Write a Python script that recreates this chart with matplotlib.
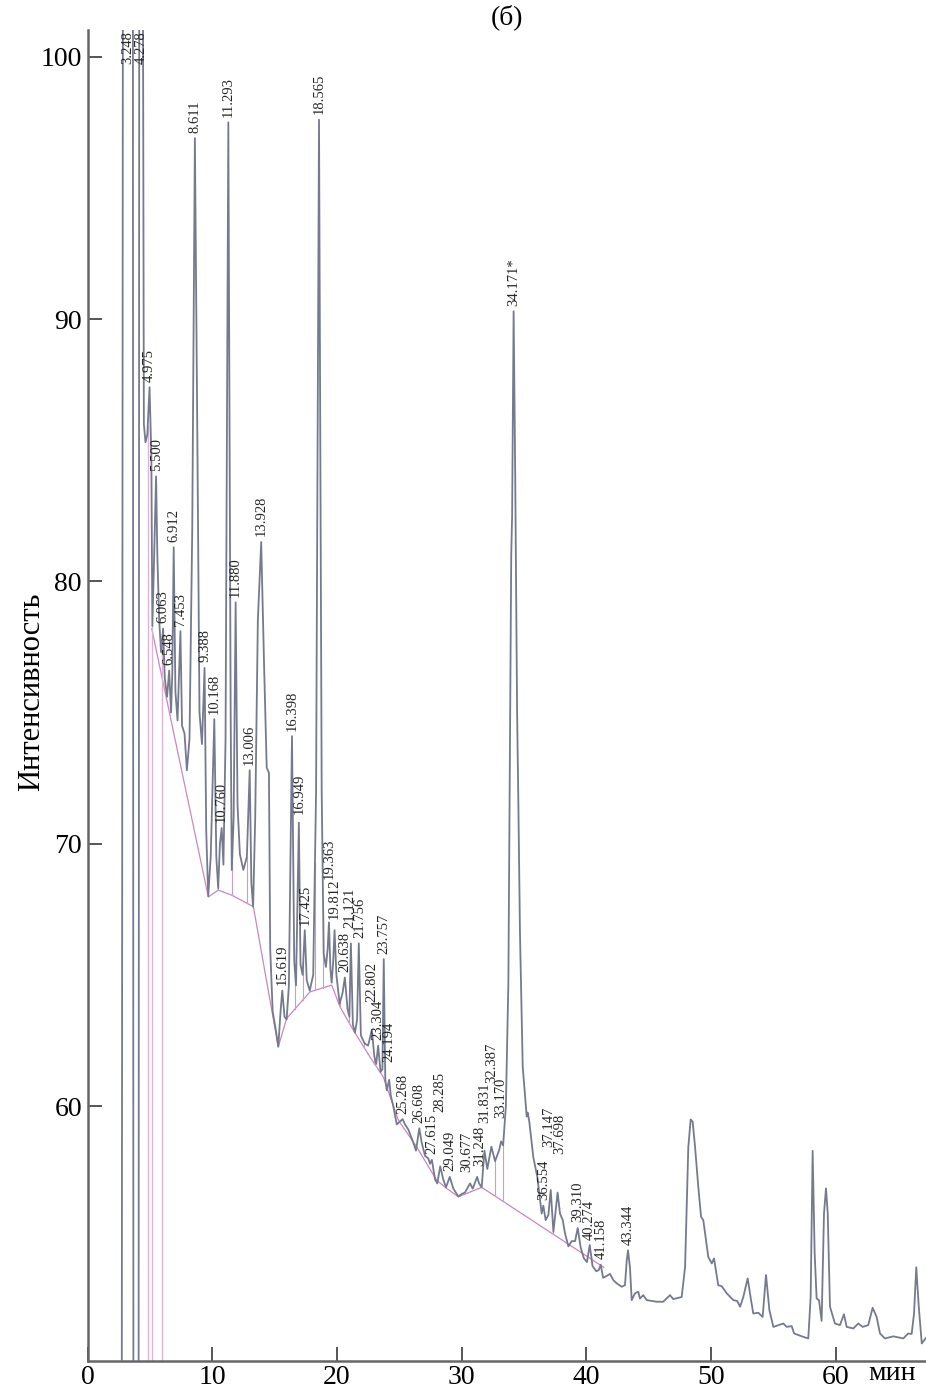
import numpy as np
import matplotlib.pyplot as plt

plt.rcParams['font.family'] = ['Liberation Serif', 'DejaVu Serif']

# chromatogram trace: retention time (min) / intensity
t = [2.75, 2.84, 3.248, 3.64, 3.68, 4.10, 4.15, 4.278, 4.44, 4.52,
     4.65, 4.80, 4.975, 5.05, 5.12, 5.20, 5.32, 5.500, 5.60, 5.75,
     5.90, 6.063, 6.20, 6.38, 6.548, 6.70, 6.80, 6.912, 7.05, 7.22,
     7.453, 7.58, 7.78, 7.97, 8.18, 8.40, 8.611, 8.80, 8.98, 9.18,
     9.388, 9.52, 9.68, 9.88, 10.168, 10.33, 10.48, 10.62, 10.760, 10.90,
     11.07, 11.293, 11.48, 11.57, 11.72, 11.880, 12.03, 12.22, 12.50, 12.78,
     13.006, 13.14, 13.28, 13.45, 13.66, 13.928, 14.15, 14.37, 14.55, 14.65,
     14.85, 15.10, 15.30, 15.48, 15.619, 15.80, 15.97, 16.15, 16.398, 16.58,
     16.72, 16.949, 17.08, 17.25, 17.425, 17.58, 17.82, 18.10, 18.33, 18.565,
     18.78, 18.94, 19.12, 19.26, 19.363, 19.48, 19.58, 19.70, 19.812, 19.96,
     20.22, 20.45, 20.638, 20.85, 21.00, 21.121, 21.28, 21.45, 21.62, 21.756,
     21.92, 22.20, 22.50, 22.802, 23.00, 23.15, 23.304, 23.50, 23.65, 23.757,
     23.88, 24.00, 24.194, 24.32, 24.52, 24.80, 25.268, 25.46, 25.73, 26.13,
     26.34, 26.608, 26.80, 27.07, 27.33, 27.47, 27.615, 27.87, 28.05, 28.285,
     28.53, 28.75, 29.049, 29.34, 29.74, 30.01, 30.27, 30.677, 30.89, 31.248,
     31.40, 31.61, 31.831, 32.06, 32.387, 32.68, 33.00, 33.170, 33.33, 33.55,
     33.75, 33.85, 33.98, 34.05, 34.171, 34.30, 34.45, 34.55, 34.68, 34.90,
     35.22, 35.30, 35.43, 35.75, 36.07, 36.29, 36.42, 36.554, 36.74, 36.96,
     37.147, 37.36, 37.698, 37.89, 38.11, 38.29, 38.56, 38.83, 39.10, 39.310,
     39.55, 39.80, 40.05, 40.274, 40.50, 40.80, 41.00, 41.158, 41.35, 41.55,
     41.90, 42.17, 42.44, 42.84, 43.10, 43.24, 43.344, 43.50, 43.64, 43.90,
     44.17, 44.30, 44.57, 44.84, 45.64, 46.17, 46.71, 46.98, 47.65, 47.92,
     48.18, 48.37, 48.53, 48.72, 48.98, 49.20, 49.38, 49.78, 50.06, 50.24,
     50.58, 50.86, 51.26, 51.79, 52.10, 52.33, 52.59, 52.94, 53.21, 53.39,
     53.79, 54.14, 54.41, 54.68, 55.00, 55.80, 56.07, 56.47, 56.66, 57.40,
     57.80, 57.99, 58.15, 58.31, 58.47, 58.66, 58.87, 59.06, 59.22, 59.36,
     59.54, 59.94, 60.34, 60.66, 60.88, 61.41, 61.81, 62.16, 62.61, 62.96,
     63.28, 63.55, 63.95, 64.62, 65.42, 65.82, 66.09, 66.28, 66.46, 66.66,
     66.90, 67.30]
signal = [49.5, 104.0, 106.0, 104.0, 49.5, 49.5, 104.0, 106.0, 104.0, 86.0,
          85.3, 85.6, 87.4, 86.0, 84.8, 78.3, 80.5, 84.0, 81.0, 78.5,
          77.3, 78.2, 76.3, 75.6, 76.6, 75.0, 76.5, 81.3, 75.8, 74.7,
          78.1, 74.5, 74.2, 72.8, 74.0, 82.0, 96.9, 86.0, 75.0, 73.8,
          76.7, 70.5, 68.0, 69.5, 74.75, 69.5, 68.3, 70.0, 70.6, 69.2,
          74.0, 97.5, 75.0, 69.0, 71.0, 79.2, 71.5, 69.6, 69.0, 69.5,
          72.8, 68.5, 67.6, 71.0, 78.5, 81.5, 77.0, 72.9, 72.7, 66.0,
          63.6, 62.9, 62.26, 63.6, 64.4, 63.4, 63.3, 64.6, 74.1, 65.5,
          64.6, 70.8, 65.4, 65.0, 66.7, 64.8, 64.4, 65.0, 72.0, 97.6,
          72.0, 65.8, 65.3, 66.0, 67.0, 65.2, 64.7, 65.5, 66.7, 65.0,
          63.9, 64.3, 64.9, 63.7, 63.4, 66.2, 63.1, 62.8, 63.3, 66.2,
          62.7, 62.4, 62.3, 62.9, 61.9, 61.6, 62.3, 61.3, 61.4, 65.6,
          61.0, 60.6, 61.0, 60.4, 60.0, 59.3, 59.5, 59.3, 59.1, 58.6,
          58.3, 59.15, 58.6, 58.1, 58.0, 57.8, 57.95, 57.2, 57.05, 57.7,
          57.2, 56.9, 57.3, 56.85, 56.55, 56.65, 56.7, 57.05, 56.85, 57.3,
          57.05, 56.9, 58.3, 57.6, 58.45, 57.9, 58.3, 58.65, 58.5, 60.0,
          64.7, 72.0, 81.0, 82.5, 90.3, 84.0, 75.0, 71.6, 66.6, 61.5,
          59.6, 59.75, 59.4, 58.05, 57.3, 56.4, 55.9, 56.2, 55.65, 55.85,
          56.8, 55.2, 56.7, 55.9, 55.65, 55.15, 54.65, 54.85, 54.85, 55.35,
          54.6, 54.2, 54.05, 54.7, 53.9, 53.7, 53.75, 53.95, 53.45, 53.5,
          53.6, 53.36, 53.24, 53.11, 53.17, 54.1, 54.5, 53.85, 52.6, 52.86,
          52.92, 52.66, 52.79, 52.6, 52.54, 52.54, 52.79, 52.64, 52.72, 53.87,
          58.44, 59.49, 59.40, 58.44, 56.92, 55.78, 55.65, 54.25, 54.0, 54.19,
          53.17, 53.13, 52.86, 52.6, 52.57, 52.35, 52.72, 53.43, 52.6, 52.09,
          52.12, 51.96, 53.56, 52.22, 51.58, 51.71, 51.58, 51.61, 51.33, 51.2,
          51.14, 52.72, 58.29, 54.4, 52.66, 52.6, 51.81, 55.9, 56.86, 55.9,
          52.35, 51.71, 51.65, 52.06, 51.58, 51.52, 51.71, 51.58, 51.65, 52.31,
          51.96, 51.33, 51.14, 51.22, 51.14, 51.33, 51.31, 52.09, 53.85, 52.35,
          50.95, 51.2]

# integration baseline
base_t = [5.15, 9.69, 10.49, 11.56, 13.30, 15.30, 15.97, 17.84, 19.58, 20.25,
          21.32, 22.65, 23.72, 24.93, 26.40, 28.00, 28.80, 29.74, 31.61, 41.40]
base_y = [78.2, 67.97, 68.23, 68.04, 67.6, 62.26, 63.34, 64.35, 64.61, 63.78,
          62.89, 61.87, 61.11, 59.46, 58.44, 57.17, 56.86, 56.54, 56.9, 53.85]

# peak boundaries dropped to the baseline
drop_t = [10.49, 11.56, 12.77, 16.64, 17.30, 18.24, 18.90, 20.25, 21.00, 21.32,
          22.20, 23.00, 24.00, 32.68, 33.33, 37.36]
# boundaries of the early peaks, baseline off scale
cut_t = [4.83, 5.20, 5.95]

peak_names = ['3.248', '4.278', '4.975', '5.500', '6.063', '6.548', '6.912', '7.453',
              '8.611', '9.388', '10.168', '10.760', '11.293', '11.880', '13.006',
              '13.928', '15.619', '16.398', '16.949', '17.425', '18.565', '19.363',
              '19.812', '20.638', '21.121', '21.756', '22.802', '23.304', '23.757',
              '24.194', '25.268', '26.608', '27.615', '28.285', '29.049', '30.677',
              '31.248', '31.831', '32.387', '33.170', '34.171*', '36.554', '37.147',
              '37.698', '39.310', '40.274', '41.158', '43.344']
peak_y = [106.0, 106.0, 87.4, 84.0, 78.2, 76.6, 81.3, 78.1, 96.9, 76.7, 74.75, 70.6,
          97.5, 79.2, 72.8, 81.5, 64.4, 74.1, 70.8, 66.7, 97.6, 67.0, 66.7, 64.9,
          66.2, 66.2, 62.9, 62.3, 65.6, 61.0, 59.5, 59.15, 57.95, 57.7, 57.3, 57.05,
          57.3, 58.3, 58.45, 58.65, 90.3, 56.2, 56.8, 56.7, 55.35, 54.7, 53.95, 54.5]

# extra lift (points) for labels pushed up by their neighbours
label_lift = {'19.363': 27, '19.812': 4, '21.121': 7, '22.802': 16, '24.194': 9,
              '28.285': 35, '31.831': 16, '32.387': 42, '33.170': 13, '37.147': 27,
              '37.698': 24, '30.677': 4, '31.248': 4, '16.949': 2}
# sideways nudge (points) where two labels would touch
label_shift = {'37.147': -1.5, '37.698': 1.5, '30.677': -2.2, '31.248': 2.2,
               '21.121': -1, '21.756': 1}

x_ticks = [0, 10, 20, 30, 40, 50, 60]
y_ticks = [60, 70, 80, 90, 100]
x_min, x_max = 0, 67.24
y_min, y_max = 50.28, 101.02

fig = plt.figure(figsize=(9.26, 13.91), dpi=100)
ax = fig.add_axes([87.5 / 926, 1 - 1361 / 1391, 1 - 87.5 / 926, 1331 / 1391])

trace_color = '#767a8e'
pink = '#c988bd'

ax.plot(base_t, base_y, color=pink, lw=0.9, zorder=2)

for x in drop_t:
    top = np.interp(x, t, signal)
    bot = np.interp(x, base_t, base_y)
    ax.plot([x, x], [bot, top], color='#c9a0c4', lw=0.8, zorder=2)
for x in cut_t:
    top = np.interp(x, t, signal)
    ax.plot([x, x], [y_min - 1, top], color='#dcb4d6', lw=1.0, zorder=2)

ax.plot(t, signal, color=trace_color, lw=1.3, zorder=3)

for name, y in zip(peak_names, peak_y):
    x = float(name.rstrip('*'))
    lift = label_lift.get(name, 0)
    dx = label_shift.get(name, 0)
    if y > y_max:
        ax.annotate(name, (x, y_max), xytext=(dx, -1), textcoords='offset points',
                    rotation=90, ha='center', va='top', fontsize=10.5, color='#262626')
    else:
        ax.annotate(name, (x, y), xytext=(dx, 4 + lift), textcoords='offset points',
                    rotation=90, ha='center', va='bottom', fontsize=10.5, color='#262626')

ax.set_xlim(x_min, x_max)
ax.set_ylim(y_min, y_max)
ax.set_xticks(x_ticks)
ax.set_yticks(y_ticks)
ax.tick_params(direction='in', length=10, width=1.4, color='#555555',
               labelsize=20, pad=4)
ax.tick_params(axis='x', pad=3)
for side in ['top', 'right']:
    ax.spines[side].set_visible(False)
for side in ['left', 'bottom']:
    ax.spines[side].set_color('#666666')
    ax.spines[side].set_linewidth(1.8)

ax.set_ylabel('Интенсивность', fontsize=22)
ax.yaxis.set_label_coords(-0.0495, 0.5026)
ax.text(64.5, 0.0, 'мин', transform=ax.get_xaxis_transform(),
        ha='center', va='top', fontsize=20)
fig.text(0.547, 0.997, '(б)', ha='center', va='top', fontsize=20)

fig.savefig('out.png', dpi=100)
